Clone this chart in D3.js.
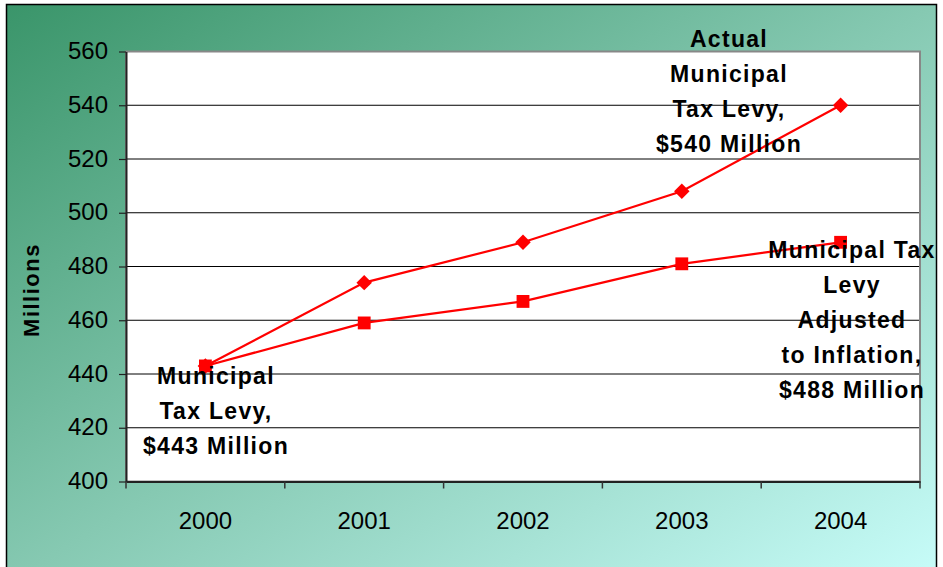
<!DOCTYPE html>
<html>
<head>
<meta charset="utf-8">
<script src="https://cdn.jsdelivr.net/npm/d3@7"></script>
<style>
    body { margin: 0; background: #fff; }
    svg { display: block; font-family: "Liberation Sans", Arial, sans-serif; }
</style>
</head>
<body>
<div id="chart-area"></div>
<script>
const years = ["2000", "2001", "2002", "2003", "2004"];
const actualLevy = [443, 474, 489, 508, 540];
const adjustedLevy = [443, 459, 467, 481, 489];
const yTicks = [400, 420, 440, 460, 480, 500, 520, 540, 560];

const notes = [
    { x: 216, y: 384, lines: ["Municipal", "Tax Levy,", "$443 Million"] },
    { x: 729, y: 47, lines: ["Actual", "Municipal", "Tax Levy,", "$540 Million"] },
    { x: 852, y: 258, lines: ["Municipal Tax", "Levy", "Adjusted", "to Inflation,", "$488 Million"] },
];

const chartSize = { width: 943, height: 567 };
const plot = { left: 126, right: 920, top: 51.5, bottom: 481.5 };

const svg = d3.select("#chart-area")
    .append("svg")
    .attr("width", chartSize.width)
    .attr("height", chartSize.height);

const grad = svg.append("defs")
    .append("linearGradient")
    .attr("id", "bg")
    .attr("x1", "0%").attr("y1", "0%")
    .attr("x2", "100%").attr("y2", "100%");
grad.append("stop").attr("offset", "0%").attr("stop-color", "#3a956a");
grad.append("stop").attr("offset", "50%").attr("stop-color", "#86c9b2");
grad.append("stop").attr("offset", "100%").attr("stop-color", "#c8fdfa");

svg.append("rect")
    .attr("x", 6.5).attr("y", 4.5)
    .attr("width", 930).attr("height", 580)
    .attr("fill", "url(#bg)")
    .attr("stroke", "#000")
    .attr("stroke-width", 1.5);

svg.append("rect")
    .attr("x", plot.left).attr("y", plot.top)
    .attr("width", plot.right - plot.left)
    .attr("height", plot.bottom - plot.top)
    .attr("fill", "#fff")
    .attr("stroke", "#888")
    .attr("stroke-width", 2);

const x = d3.scaleBand().domain(years).range([plot.left, plot.right]);
const y = d3.scaleLinear().domain([400, 560]).range([plot.bottom, plot.top]);

// gridlines
svg.append("g")
    .selectAll("line")
    .data(yTicks.slice(1, -1))
    .join("line")
    .attr("x1", plot.left).attr("x2", plot.right - 1)
    .attr("y1", d => y(d)).attr("y2", d => y(d))
    .attr("stroke", "#000")
    .attr("stroke-width", 1);

const yAxis = d3.axisLeft(y).tickValues(yTicks).tickSize(7).tickSizeOuter(0).tickPadding(11);
svg.append("g")
    .attr("class", "y-axis")
    .attr("transform", `translate(${plot.left}, 0)`)
    .call(yAxis);

const xAxis = d3.axisBottom(x).tickSize(0).tickSizeOuter(0).tickPadding(30);
svg.append("g")
    .attr("class", "x-axis")
    .attr("transform", `translate(0, ${plot.bottom})`)
    .call(xAxis);

// ticks between categories
svg.append("g")
    .selectAll("line")
    .data(d3.range(years.length + 1))
    .join("line")
    .attr("x1", i => plot.left + i * x.step())
    .attr("x2", i => plot.left + i * x.step())
    .attr("y1", plot.bottom).attr("y2", plot.bottom + 7)
    .attr("stroke", "#333")
    .attr("stroke-width", 1.5);

svg.selectAll(".y-axis path, .x-axis path")
    .attr("stroke", "#222")
    .attr("stroke-width", 2);
svg.selectAll(".y-axis line").attr("stroke", "#222").attr("stroke-width", 1.2);
svg.selectAll(".y-axis text, .x-axis text")
    .attr("font-size", 24)
    .attr("font-family", "'Liberation Sans', Arial, sans-serif")
    .attr("fill", "#000");
svg.selectAll(".y-axis text").attr("dy", "0.3em");

svg.append("text")
    .text("Millions")
    .attr("transform", "translate(39, 290) rotate(-90)")
    .attr("text-anchor", "middle")
    .attr("font-size", 22)
    .attr("font-weight", "bold")
    .attr("letter-spacing", 1.5);

const cx = d => x(d) + x.bandwidth() / 2;
const line = d3.line().x(d => cx(d[0])).y(d => y(d[1]));

const drawSeries = function (values, size, turn) {
    const pts = years.map((yr, i) => [yr, values[i]]);
    svg.append("path")
        .attr("d", line(pts))
        .attr("fill", "none")
        .attr("stroke", "#ff0000")
        .attr("stroke-width", 2.2);
    svg.append("g")
        .selectAll("path")
        .data(pts)
        .join("path")
        .attr("d", d3.symbol().type(d3.symbolSquare).size(size))
        .attr("transform", d => `translate(${cx(d[0])}, ${y(d[1])}) rotate(${turn})`)
        .attr("fill", "#ff0000");
};

drawSeries(adjustedLevy, 165, 0);
drawSeries(actualLevy, 120, 45);

notes.forEach(n => {
    const t = svg.append("text")
        .attr("text-anchor", "middle")
        .attr("font-size", 23)
        .attr("font-weight", "bold")
        .attr("letter-spacing", 1.3);
    n.lines.forEach((l, i) => {
        t.append("tspan")
            .attr("x", n.x)
            .attr("y", n.y + i * 35)
            .text(l);
    });
});
</script>
</body>
</html>
